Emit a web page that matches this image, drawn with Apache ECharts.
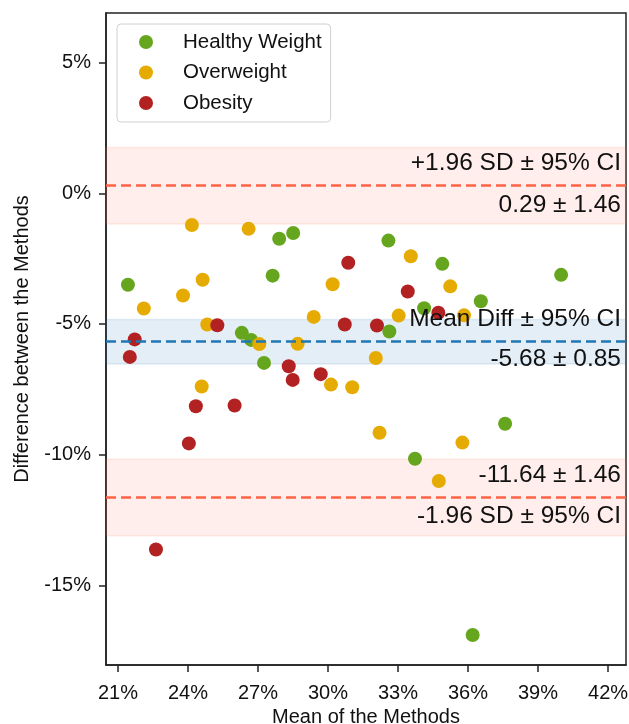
<!DOCTYPE html>
<html>
<head>
<meta charset="utf-8">
<script src="https://cdn.jsdelivr.net/npm/echarts@6/dist/echarts.min.js"></script>
<style>
html,body{margin:0;padding:0;background:#fff;}
#chart{width:629px;height:724px;}
</style>
</head>
<body>
<div id="chart"></div>
<script>
// ---- data ----
const groupNames = ['Healthy Weight', 'Overweight', 'Obesity'];
const healthyMean = [21.43, 27.91, 28.51, 27.63, 26.31, 26.71, 27.26, 32.59, 34.90, 34.12, 32.63, 39.99, 36.55, 37.59, 33.73, 36.20];
const healthyDiff = [-3.50, -1.74, -1.52, -3.15, -5.34, -5.61, -6.49, -1.81, -2.70, -4.40, -5.29, -3.12, -4.13, -8.82, -10.16, -16.90];
const overMean = [24.17, 26.60, 24.63, 23.79, 22.11, 24.83, 27.06, 33.55, 30.20, 35.24, 33.03, 29.39, 28.70, 32.05, 35.83, 24.59, 30.13, 31.04, 32.21, 34.75, 35.76];
const overDiff = [-1.21, -1.36, -3.31, -3.91, -4.41, -5.02, -5.77, -2.41, -3.48, -3.56, -4.68, -4.73, -5.76, -6.30, -4.67, -7.39, -7.32, -7.42, -9.16, -11.01, -9.54];
const obeseMean = [25.26, 21.72, 21.51, 28.32, 29.69, 30.87, 33.42, 34.73, 30.72, 32.10, 28.49, 24.34, 26.00, 24.04, 22.63];
const obeseDiff = [-5.05, -5.59, -6.26, -6.62, -6.92, -2.66, -3.76, -4.57, -5.02, -5.06, -7.14, -8.15, -8.12, -9.57, -13.63];
const meanDiff = -5.68;
const meanCI = 0.85;
const upperLoA = 0.29;
const lowerLoA = -11.64;
const loaCI = 1.46;
const xTicks = [21, 24, 27, 30, 33, 36, 39, 42];
const yTicks = [-15, -10, -5, 0, 5];

// ---- build ----
const zip = (a, b) => a.map((v, i) => [v, b[i]]);
const fontFam = '"Liberation Sans", Arial, sans-serif';
const colors = ['#66a61e', '#e6ab02', '#b22222'];
const fmt = v => v.toFixed(2);
const annot = (text, pos, dist) => ({
  show: true, position: pos, formatter: text, distance: dist,
  fontSize: 24.5, fontFamily: fontFam, color: '#111'
});
const dashBlue = { color: '#1f77b4', width: 2.5, type: [10, 5] };
const dashRed = { color: '#ff6347', width: 2.5, type: [10, 5] };
const hidden = { color: 'rgba(0,0,0,0)', width: 0.01, type: 'solid' };

const chart = echarts.init(document.getElementById('chart'), null, { renderer: 'canvas' });
chart.setOption({
  animation: false,
  grid: { left: 106, right: 3, top: 13, bottom: 59, show: true, borderColor: '#222', borderWidth: 1.5, backgroundColor: 'transparent', containLabel: false, outerBoundsMode: 'none' },
  legend: {
    data: groupNames.map(n => ({ name: n, icon: 'circle' })),
    orient: 'vertical', left: 117, top: 24,
    itemWidth: 14, itemHeight: 14, itemGap: 6.5,
    padding: [6, 9, 7, 22],
    borderColor: '#d0d0d0', borderWidth: 1, borderRadius: 4,
    formatter: name => '{g|}' + name,
    textStyle: { fontSize: 20.5, fontFamily: fontFam, color: '#111', lineHeight: 24, rich: { g: { width: 25 } } }
  },
  xAxis: {
    type: 'value', min: 20.49, max: 42.77,
    name: 'Mean of the Methods', nameLocation: 'middle', nameGap: 40,
    nameTextStyle: { fontSize: 20, fontFamily: fontFam, color: '#111' },
    axisLine: { show: true, onZero: false, lineStyle: { color: '#222', width: 1.5 } },
    axisTick: { show: true, length: 7, lineStyle: { color: '#222', width: 1.5 }, customValues: xTicks },
    axisLabel: { customValues: xTicks, formatter: v => v + '%', fontSize: 20, fontFamily: fontFam, color: '#111', margin: 18 },
    splitLine: { show: false }
  },
  yAxis: {
    type: 'value', min: -18.05, max: 6.9,
    name: 'Difference between the Methods', nameLocation: 'middle', nameGap: 74,
    nameTextStyle: { fontSize: 20, fontFamily: fontFam, color: '#111' },
    axisLine: { show: true, onZero: false, lineStyle: { color: '#222', width: 1.5 } },
    axisTick: { show: true, length: 7, lineStyle: { color: '#222', width: 1.5 }, customValues: yTicks },
    axisLabel: { customValues: yTicks, formatter: v => v + '%', fontSize: 20, fontFamily: fontFam, color: '#111', margin: 15 },
    splitLine: { show: false }
  },
  series: [
    {
      name: 'bands', type: 'scatter', data: [], z: 1, silent: true,
      markArea: {
        silent: true,
        data: [
          [{ yAxis: upperLoA - loaCI, itemStyle: { color: 'rgba(255,99,71,0.11)', borderColor: 'rgba(255,99,71,0.12)', borderWidth: 1.5 } }, { yAxis: upperLoA + loaCI }],
          [{ yAxis: meanDiff - meanCI, itemStyle: { color: 'rgba(31,119,180,0.12)', borderColor: 'rgba(31,119,180,0.12)', borderWidth: 1.5 } }, { yAxis: meanDiff + meanCI }],
          [{ yAxis: lowerLoA - loaCI, itemStyle: { color: 'rgba(255,99,71,0.11)', borderColor: 'rgba(255,99,71,0.12)', borderWidth: 1.5 } }, { yAxis: lowerLoA + loaCI }]
        ]
      }
    },
    { name: groupNames[0], type: 'scatter', data: zip(healthyMean, healthyDiff), symbolSize: 14, itemStyle: { color: colors[0], opacity: 1 }, z: 2 },
    { name: groupNames[1], type: 'scatter', data: zip(overMean, overDiff), symbolSize: 14, itemStyle: { color: colors[1], opacity: 1 }, z: 3 },
    { name: groupNames[2], type: 'scatter', data: zip(obeseMean, obeseDiff), symbolSize: 14, itemStyle: { color: colors[2], opacity: 1 }, z: 4 },
    {
      name: 'lines', type: 'scatter', data: [], z: 10, silent: true,
      markLine: {
        silent: true, symbol: ['none', 'none'], animation: false,
        data: [
          { yAxis: upperLoA, lineStyle: dashRed, label: annot('+1.96 SD ± 95% CI', 'insideEndTop', [5, 10]) },
          { yAxis: upperLoA, lineStyle: hidden, label: annot(fmt(upperLoA) + ' ± ' + fmt(loaCI), 'insideEndBottom', [5, 7]) },
          { yAxis: meanDiff, lineStyle: dashBlue, label: annot('Mean Diff ± 95% CI', 'insideEndTop', [5, 10]) },
          { yAxis: meanDiff, lineStyle: hidden, label: annot(fmt(meanDiff) + ' ± ' + fmt(meanCI), 'insideEndBottom', [5, 5]) },
          { yAxis: lowerLoA, lineStyle: dashRed, label: annot(fmt(lowerLoA) + ' ± ' + fmt(loaCI), 'insideEndTop', [5, 10]) },
          { yAxis: lowerLoA, lineStyle: hidden, label: annot('-1.96 SD ± 95% CI', 'insideEndBottom', [5, 6]) }
        ]
      }
    }
  ]
});
</script>
</body>
</html>
